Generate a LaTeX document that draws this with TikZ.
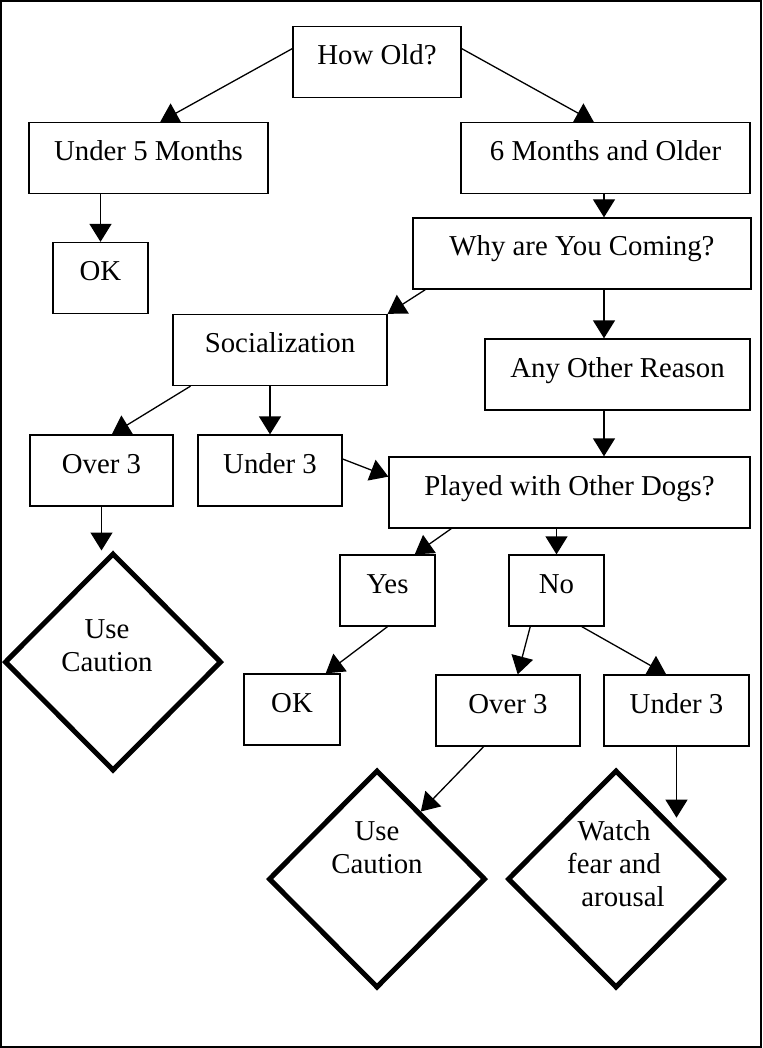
\documentclass[tikz,border=0pt]{standalone}
\usepackage{fontspec}
\setmainfont{Liberation Serif}
\usetikzlibrary{shapes.geometric, arrows.meta, calc}

\tikzset{
  box/.style={draw, rectangle, line width=1.3pt, inner sep=0pt, text height=38pt, text depth=33pt, font=\fontsize{28.8}{33}\selectfont},
  dia/.style={draw, diamond, line width=5pt, inner sep=0pt, minimum width=217pt, minimum height=218pt},
  dtext/.style={align=center, font=\fontsize{28.8}{33}\selectfont},
  arr/.style={line width=1.3pt, -{Triangle[length=18pt,width=22pt]}}
}

\begin{document}
\begin{tikzpicture}[x=1pt, y=-1pt]
  \useasboundingbox (0,0) rectangle (762,1048);
  \draw[line width=2pt] (1,1) rectangle (761,1047);

  % boxes
  \node[box, minimum width=168pt] (howold) at (377,62) {How Old?};
  \node[box, minimum width=239pt] (under5) at (148.5,158) {Under 5 Months};
  \node[box, minimum width=289pt] (older6) at (605.5,158) {6 Months and Older};
  \node[box, minimum width=95pt] (okA) at (100.5,278) {OK};
  \node[box, minimum width=338pt] (why) at (582,253.5) {Why are You Coming?};
  \node[box, minimum width=214pt] (social) at (280,350) {Socialization};
  \node[box, minimum width=265pt] (other) at (617.5,374.5) {Any Other Reason};
  \node[box, minimum width=143pt] (overA) at (101.5,470.5) {Over 3};
  \node[box, minimum width=144pt] (underA) at (270,470.5) {Under 3};
  \node[box, minimum width=361pt] (played) at (569.5,492.5) {Played with Other Dogs?};
  \node[box, minimum width=95pt] (yes) at (387.5,590.5) {Yes};
  \node[box, minimum width=95pt] (no) at (556.5,590.5) {No};
  \node[box, minimum width=96pt] (okB) at (292,709.5) {OK};
  \node[box, minimum width=144pt] (overB) at (508,710.5) {Over 3};
  \node[box, minimum width=145pt] (underB) at (676.5,710.5) {Under 3};

  % diamonds
  \node[dia, label={[dtext, xshift=-6pt, yshift=16pt]center:Use\\Caution}] (cautionA) at (113,662) {};
  \node[dia, label={[dtext, yshift=31pt]center:Use\\Caution}] (cautionB) at (377,879) {};
  \node[dia, label={[dtext, xshift=-2pt, yshift=15pt]center:Watch\\fear and\\\hspace*{18pt}arousal}] (watch) at (616,879) {};

  \coordinate (whyout) at ($(why.south)+(22,0)$);
  \coordinate (watchtip) at ($(underB.south)+(0,71)$);

  % arrows
  \draw[arr] (howold.171) -- (under5.72);
  \draw[arr] (howold.9) -- (older6.108);
  \draw[arr] (okA.north |- under5.south) -- (okA.north);
  \draw[arr] (whyout |- older6.south) -- (whyout |- why.north);
  \draw[arr] (why.193) -- (social.north east);
  \draw[arr] (whyout) -- (whyout |- other.north);
  \draw[arr] (whyout |- other.south) -- (whyout |- played.north);
  \draw[arr] (social.202) -- (overA.74);
  \draw[arr] (underA.north |- social.south) -- (underA.north);
  \draw[arr] (underA.9) -- (played.175);
  \draw[arr] (overA.south) -- (overA.south |- cautionA.north);
  \draw[arr] (played.197) -- (yes.53);
  \draw[arr] (no.north |- played.south) -- (no.north);
  \draw[arr] (yes.south) -- (okB.47);
  \draw[arr] (no.234) -- (overB.75);
  \draw[arr] (no.305) -- (underB.106);
  \draw[arr] (overB.236) -- (cautionB.57);
  \draw[arr] (underB.south) -- (watchtip);
\end{tikzpicture}
\end{document}
